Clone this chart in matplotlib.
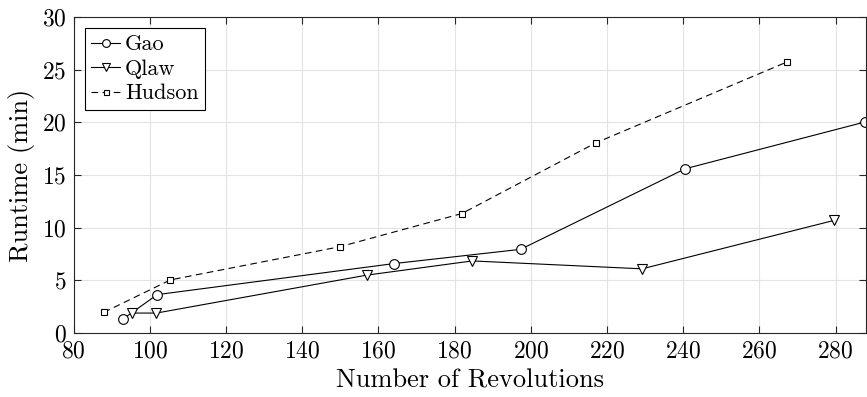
import numpy as np
import matplotlib
matplotlib.use('Agg')
import matplotlib.pyplot as plt

plt.rcParams['font.family'] = 'serif'
plt.rcParams['font.serif'] = ['cmr10']
plt.rcParams['mathtext.fontset'] = 'cm'
plt.rcParams['axes.formatter.use_mathtext'] = True

# data
gao_x = [93.0, 101.9, 164.1, 197.3, 240.5, 287.8]
gao_y = [1.35, 3.65, 6.6, 7.95, 15.6, 20.05]
qlaw_x = [95.2, 101.7, 156.9, 184.6, 229.2, 279.6]
qlaw_y = [1.9, 1.9, 5.5, 6.85, 6.1, 10.7]
hudson_x = [87.9, 105.4, 149.9, 181.9, 217.0, 267.3]
hudson_y = [1.97, 5.05, 8.2, 11.35, 18.05, 25.75]

xticks = np.arange(80, 281, 20)
yticks = np.arange(0, 31, 5)

fig = plt.figure(figsize=(8.67, 3.97), dpi=100)
ax = fig.add_axes([0.085, 0.161, 0.914, 0.796])

ax.plot(gao_x, gao_y, '-', color='black', lw=0.8, marker='o', ms=7,
        mfc='white', mec='black', mew=0.8, label='Gao')
ax.plot(qlaw_x, qlaw_y, '-', color='black', lw=0.8, marker='v', ms=7.5,
        mfc='white', mec='black', mew=0.8, label='Qlaw')
ax.plot(hudson_x, hudson_y, '--', color='black', lw=0.8, marker='s', ms=4.5,
        mfc='white', mec='black', mew=0.8, label='Hudson', dashes=(6, 4))

ax.set_xlim(80, 288)
ax.set_ylim(0, 30)
ax.set_xticks(xticks)
ax.set_yticks(yticks)
ax.grid(True, color='#e3e3e3', lw=0.8)
ax.set_axisbelow(True)
ax.tick_params(direction='in', top=True, right=True, labelsize=17,
               color='#262626', length=5, width=0.8, pad=5)
for s in ax.spines.values():
    s.set_color('#262626')
    s.set_linewidth(0.8)

ax.set_xlabel('Number of Revolutions', fontsize=19, labelpad=5)
ax.set_ylabel('Runtime (min)', fontsize=19, labelpad=5)

leg = ax.legend(loc='upper left', fontsize=16, fancybox=False, framealpha=1,
                edgecolor='black', handlelength=1.3, handletextpad=0.2,
                borderpad=0.3, labelspacing=0.22, borderaxespad=0.5,
                markerscale=0.8)
leg.get_frame().set_linewidth(0.8)

fig.savefig('out.png', dpi=100)
